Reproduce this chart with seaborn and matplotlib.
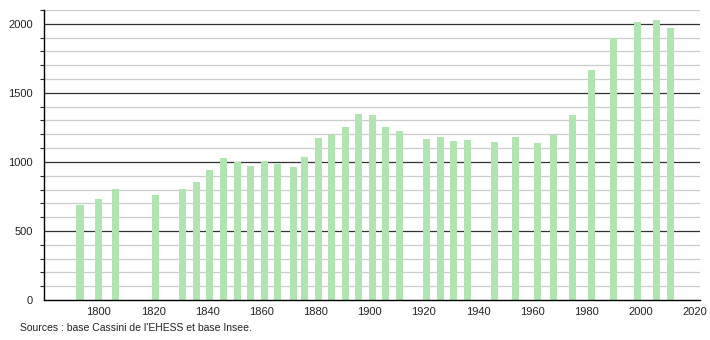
import matplotlib
matplotlib.use("Agg")
import matplotlib.pyplot as plt
import seaborn as sns
import pandas as pd
from matplotlib.ticker import MultipleLocator

years = [1793, 1800, 1806, 1821, 1831, 1836, 1841, 1846, 1851, 1856, 1861, 1866,
         1872, 1876, 1881, 1886, 1891, 1896, 1901, 1906, 1911, 1921, 1926, 1931,
         1936, 1946, 1954, 1962, 1968, 1975, 1982, 1990, 1999, 2006, 2011]
population = [690, 730, 804, 761, 804, 855, 942, 1029, 1000, 971, 1007, 988,
              964, 1036, 1174, 1193, 1254, 1348, 1338, 1254, 1225, 1164, 1181, 1152,
              1159, 1145, 1181, 1138, 1193, 1341, 1667, 1894, 2014, 2029, 1971]
x_ticks = [1800, 1820, 1840, 1860, 1880, 1900, 1920, 1940, 1960, 1980, 2000, 2020]
y_ticks = [0, 500, 1000, 1500, 2000]
source = "Sources : base Cassini de l'EHESS et base Insee."

df = pd.DataFrame({"year": years, "pop": population})

sns.set_style("white")
plt.rcParams['font.family'] = ['Liberation Sans', 'DejaVu Sans']

fig = plt.figure(figsize=(7.1, 3.4), dpi=100)
ax = fig.add_axes([44/710, 40/340, (700-44)/710, 290/340])

# gridlines
for v in range(100, 2101, 100):
    if v % 500 == 0:
        ax.axhline(v, color="#333333", lw=0.9, zorder=0)
    else:
        ax.axhline(v, color="#cccccc", lw=0.9, zorder=0)

sns.barplot(data=df, x="year", y="pop", native_scale=True, width=0.65,
            color="#b0e4b0", saturation=1, edgecolor="none", ax=ax, zorder=2)

ax.set_xlim(1779.7, 2022)
ax.set_ylim(0, 2100)
ax.set_xticks(x_ticks)
ax.set_yticks(y_ticks)
ax.yaxis.set_minor_locator(MultipleLocator(100))
ax.tick_params(axis="x", length=0, labelsize=8, pad=5, colors="#222222")
ax.tick_params(axis="y", which="major", length=5, width=0.9, labelsize=8, pad=3, colors="#222222")
ax.tick_params(axis="y", which="minor", length=3, width=0.8, left=True)
ax.set_xlabel("")
ax.set_ylabel("")
for s in ["top", "right"]:
    ax.spines[s].set_visible(False)
for s in ["left", "bottom"]:
    ax.spines[s].set_color("#000000")
    ax.spines[s].set_linewidth(1.0)

fig.text(20/710, 1 - 328/340, source, fontsize=7.5, color="#222222", va="center", ha="left")

fig.savefig("out.png", dpi=100)
